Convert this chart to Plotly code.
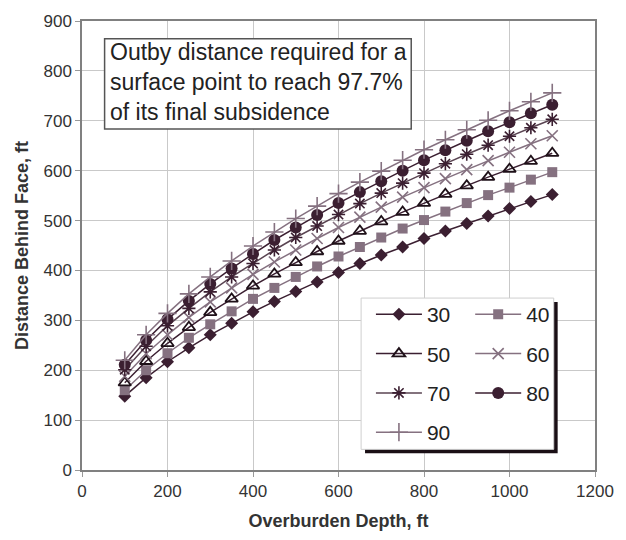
import plotly.graph_objects as go

depth = [100, 150, 200, 250, 300, 350, 400, 450, 500, 550, 600, 650, 700, 750, 800, 850, 900, 950, 1000, 1050, 1100]

s30 = [148, 185, 217, 245, 271, 294, 317, 338, 358, 377, 396, 414, 431, 447, 464, 479, 494, 509, 524, 538, 552]
s40 = [160, 200, 234, 265, 292, 318, 343, 365, 387, 408, 428, 447, 466, 484, 501, 518, 535, 551, 566, 582, 597]
s50 = [175, 218, 254, 286, 316, 343, 369, 393, 416, 438, 459, 479, 498, 517, 535, 553, 570, 587, 603, 619, 635]
s60 = [188, 233, 271, 306, 337, 365, 392, 417, 441, 464, 486, 507, 527, 547, 566, 584, 602, 620, 637, 654, 670]
s70 = [201, 248, 289, 324, 357, 387, 414, 441, 466, 489, 512, 534, 555, 575, 595, 614, 633, 651, 669, 686, 703]
s80 = [211, 260, 302, 339, 373, 404, 433, 461, 486, 511, 535, 557, 579, 600, 621, 641, 660, 679, 697, 715, 732]
s90 = [220, 271, 314, 353, 387, 419, 449, 477, 504, 529, 554, 577, 599, 621, 642, 662, 682, 701, 720, 738, 756]

names = ["30", "40", "50", "60", "70", "80", "90"]
series = [s30, s40, s50, s60, s70, s80, s90]

DARK = "#3b1f31"
MAUVE = "#857180"
styles = {
    "30": dict(symbol="diamond", color=DARK, size=10, line=DARK, lw=0),
    "40": dict(symbol="square", color=MAUVE, size=10, line=MAUVE, lw=0),
    "50": dict(symbol="triangle-up-open", color="#1e1018", size=11, line=DARK, lw=1.8),
    "60": dict(symbol="x-thin-open", color=MAUVE, size=11, line=MAUVE, lw=1.6),
    "70": dict(symbol="asterisk-open", color=DARK, size=11, line="#5a4452", lw=1.6),
    "80": dict(symbol="circle", color=DARK, size=12, line=DARK, lw=0),
    "90": dict(symbol="cross-thin-open", color=MAUVE, size=13, line=MAUVE, lw=1.6),
}
legend_of = {"30": "legend", "50": "legend", "70": "legend", "90": "legend",
             "40": "legend2", "60": "legend2", "80": "legend2"}

fig = go.Figure()
for n, ys in zip(names, series):
    st = styles[n]
    fig.add_trace(go.Scatter(
        x=depth, y=ys, name=n, mode="lines+markers",
        line=dict(color=st["line"], width=1.5),
        marker=dict(symbol=st["symbol"], size=st["size"], color=st["color"],
                    line=dict(color=st["color"], width=st["lw"])),
        legend=legend_of[n], legendgroup=n,
    ))

L, R, T, B = 82, 22, 15, 68
PW, PH = 626 - L - R, 540 - T - B

def px(x):
    return (x - L) / PW

def py(y):
    return (540 - B - y) / PH

shapes = [
    dict(type="rect", xref="paper", yref="paper", x0=px(370), x1=px(566), y0=py(455), y1=py(301),
         fillcolor="#1a0f15", line=dict(width=0), layer="above"),
    dict(type="rect", xref="paper", yref="paper", x0=px(366), x1=px(562), y0=py(451), y1=py(297),
         fillcolor="white", line=dict(color="#cfcfcf", width=1), layer="above"),
    dict(type="rect", xref="paper", yref="paper", x0=px(105), x1=px(417), y0=py(125), y1=py(33),
         fillcolor="white", line=dict(color="#555", width=1.5), layer="above"),
]

legend_common = dict(bgcolor="rgba(0,0,0,0)", borderwidth=0, font=dict(size=21, color="#222"),
                     itemwidth=46, tracegroupgap=9, xanchor="left", yanchor="top",
                     itemclick=False)

fig.update_layout(
    width=626, height=540,
    margin=dict(l=L, r=R, t=T, b=B),
    paper_bgcolor="white", plot_bgcolor="white",
    font=dict(family="Liberation Sans, Arial, sans-serif", color="#333"),
    showlegend=True,
    legend=dict(x=px(376), y=py(293), **legend_common),
    legend2=dict(x=px(477), y=py(293), **legend_common),
    shapes=shapes,
    annotations=[dict(
        xref="paper", yref="paper", x=px(108), y=py(31), xanchor="left", yanchor="top",
        text="Outby distance required for a<br>surface point to reach 97.7%<br>of its final subsidence",
        showarrow=False, align="left", font=dict(size=23, color="#222"),
    )],
    xaxis=dict(range=[0, 1200], dtick=200, showgrid=True, gridcolor="#c9c9c9", gridwidth=1,
               showline=True, linecolor="#808080", linewidth=1.5, mirror=True,
               ticks="outside", ticklen=5, tickcolor="#999",
               tickfont=dict(size=17, color="#333"), zeroline=False,
               title=dict(text="<b>Overburden Depth, ft</b>", font=dict(size=18, color="#333"), standoff=14)),
    yaxis=dict(range=[0, 900], dtick=100, showgrid=True, gridcolor="#c9c9c9", gridwidth=1,
               showline=True, linecolor="#808080", linewidth=1.5, mirror=True,
               ticks="outside", ticklen=5, tickcolor="#999",
               tickfont=dict(size=17, color="#333"), zeroline=False,
               title=dict(text="<b>Distance Behind Face, ft</b>", font=dict(size=18, color="#333"), standoff=10)),
)

fig.write_html("out.html")
